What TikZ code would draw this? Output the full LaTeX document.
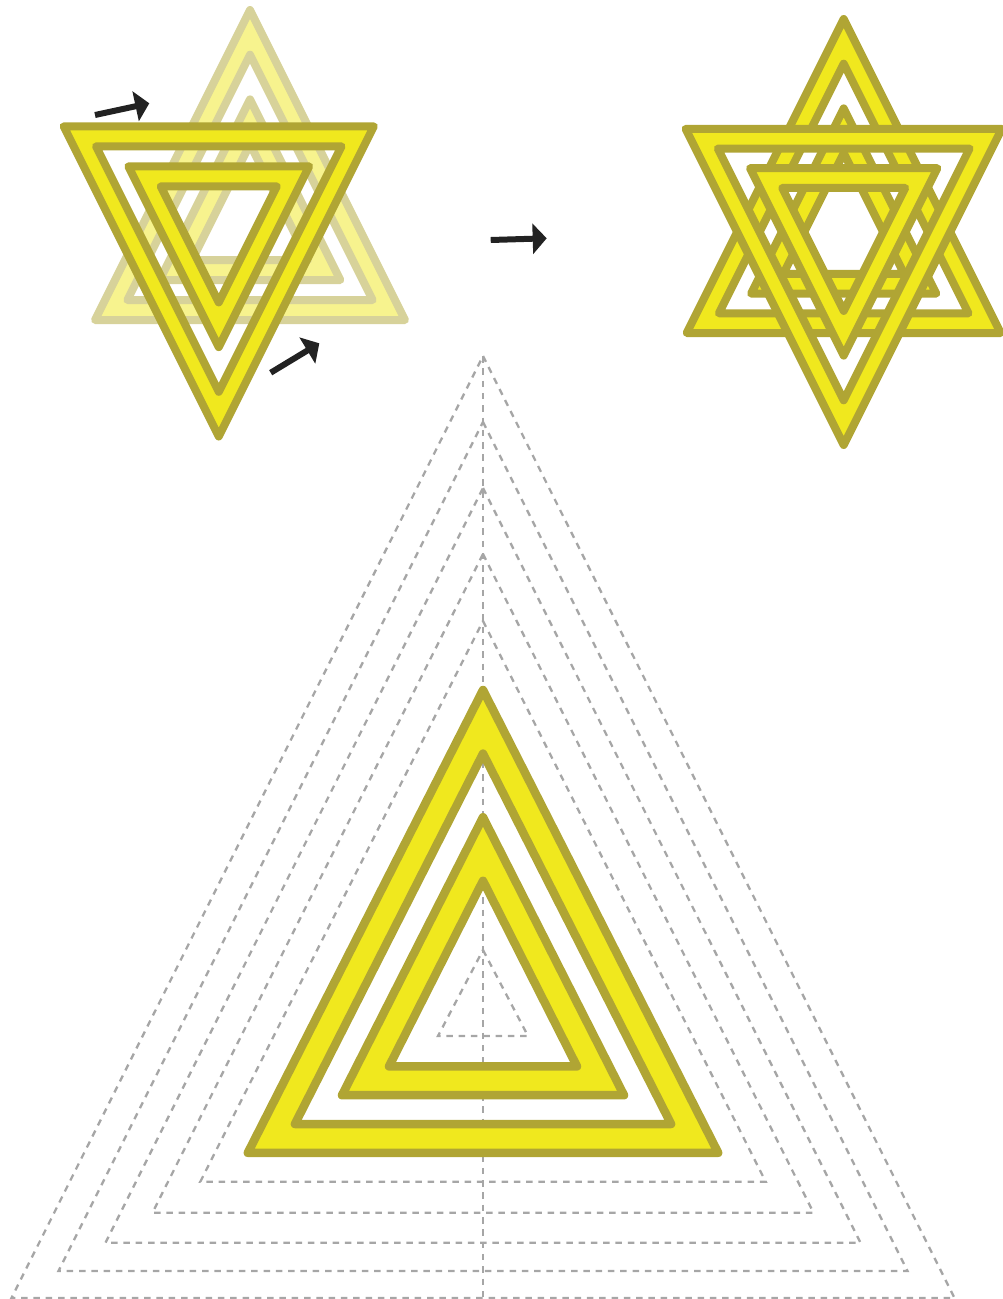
\documentclass[tikz,border=0pt]{standalone}
\usetikzlibrary{arrows.meta}
\definecolor{yel}{HTML}{F0E81E}
\definecolor{olv}{HTML}{B0A534}
\definecolor{fyel}{HTML}{F7F38E}
\definecolor{folv}{HTML}{D7D29A}
\definecolor{dgray}{HTML}{A6A6A6}
\definecolor{arr}{HTML}{222222}
\tikzset{
  tri/.style n args={3}{insert path={(#1,#2) -- ({#1+0.5*abs(#3-#2)},#3) -- ({#1-0.5*abs(#3-#2)},#3) -- cycle}},
  trw/.style n args={4}{insert path={(#1,#2) -- ({#1+#4},#3) -- ({#1-#4},#3) -- cycle}},
  band/.style={fill=yel, draw=olv, line width=8pt, line join=round, even odd rule},
  bigband/.style={band, line width=8.5pt},
  fband/.style={fill=fyel, draw=folv, line width=8pt, line join=round, even odd rule},
  guide/.style={draw=dgray, line width=2.3pt, dash pattern=on 6.5pt off 5.8pt},
  mover/.style={draw=arr, line width=6pt, -{Triangle[length=14pt,width=30pt]}},
}
\begin{document}
\begin{tikzpicture}[x=1pt,y=-1pt]
\useasboundingbox (0,0) rectangle (1003,1299);
% ---------- construction (bottom) ----------
\path[guide] [trw={483}{356}{1298}{471.5}];
\path[guide] [trw={483}{422}{1271}{424.5}];
\path[guide] [trw={483}{488}{1242.7}{377.5}];
\path[guide] [trw={483}{554}{1212.7}{330.5}];
\path[guide] [trw={483}{621}{1181.7}{282.7}];
\path[guide] [trw={483}{950}{1036}{45}];
\coordinate (vtop) at (483,356);
\coordinate (vbot) at (483,1300);
\draw[guide] (vtop) -- (vbot);
\path[bigband] [trw={483}{690}{1152.8}{235.2}] [trw={483}{753.6}{1124}{188.1}]
               [trw={483}{817.2}{1095.2}{141}] [trw={483}{880.8}{1066.4}{94}];
% ---------- top left ----------
\path[fband] [tri={250}{10}{320}] [tri={250}{54.7}{300}]
             [tri={250}{99.4}{280}] [tri={250}{144.1}{260}];
\path[band] [tri={218.75}{436.5}{126.3}] [tri={218.75}{391.8}{146.3}]
            [tri={218.75}{347.1}{166.3}] [tri={218.75}{302.4}{186.3}];
% ---------- top right ----------
\path[band] [tri={843.7}{19}{333}] [tri={843.7}{63.7}{313.3}]
            [tri={843.7}{108.4}{293.6}] [tri={843.7}{153.1}{273.9}];
\path[band] [tri={843.7}{445}{128.8}] [tri={843.7}{400.3}{148.5}]
            [tri={843.7}{355.6}{168.2}] [tri={843.7}{310.9}{187.9}];
% ---------- arrows ----------
\coordinate (a1s) at (95,115);
\coordinate (a1e) at (149.3,103.3);
\coordinate (a2s) at (270.7,372.7);
\coordinate (a2e) at (319.3,343.3);
\coordinate (a3s) at (490.7,240);
\coordinate (a3e) at (546.7,238.3);
\draw[mover] (a1s) -- (a1e);
\draw[mover] (a2s) -- (a2e);
\draw[mover] (a3s) -- (a3e);
\end{tikzpicture}
\end{document}
